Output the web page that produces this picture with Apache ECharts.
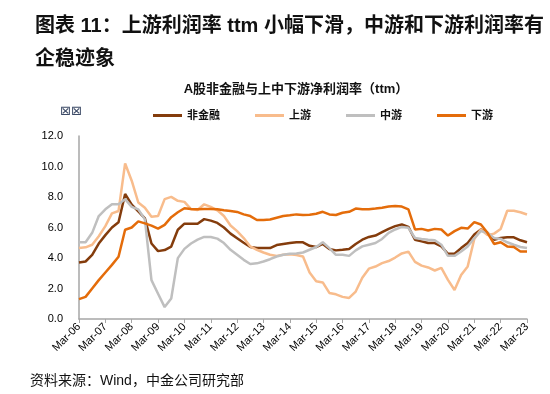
<!DOCTYPE html>
<html>
<head>
<meta charset="utf-8">
<script src="https://cdn.jsdelivr.net/npm/echarts@6/dist/echarts.min.js"></script>
<style>
html,body{margin:0;padding:0;background:#fff;}
#chart{width:550px;height:394px;}
</style>
</head>
<body>
<div id="chart"></div>
<script>
// ---- data ----
var years = ['06','07','08','09','10','11','12','13','14','15','16','17','18','19','20','21','22','23'];
var months = ['Mar','Jun','Sep','Dec'];
var seriesNames = ['非金融','上游','中游','下游'];

var nonFinancial = [3.7,3.77,4.2,4.95,5.5,6.0,6.35,8.2,7.5,7.05,
  6.6,4.95,4.45,4.52,4.75,5.85,6.25,6.25,6.25,6.55,
  6.45,6.3,6.0,5.6,5.3,5.0,4.72,4.65,4.65,4.65,
  4.85,4.92,4.98,5.03,5.03,4.8,4.72,4.92,4.59,4.5,
  4.54,4.59,4.92,5.2,5.38,5.47,5.69,5.91,6.09,6.2,
  6.04,5.2,5.09,4.98,4.98,4.76,4.28,4.28,4.65,4.98,
  5.54,5.87,5.65,5.2,5.31,5.36,5.36,5.16,5.03];
var upstream = [4.65,4.7,4.87,5.43,6.09,6.93,7.08,10.2,9.07,7.64,
  7.3,6.71,6.75,7.86,8.01,7.75,7.68,7.2,7.15,7.52,
  7.35,7.13,6.75,6.13,5.76,5.31,4.76,4.54,4.36,4.21,
  4.14,4.21,4.25,4.2,4.1,3.05,2.48,2.4,1.71,1.62,
  1.45,1.38,1.8,2.7,3.3,3.44,3.66,3.8,4.03,4.3,
  4.42,3.75,3.5,3.38,3.18,3.35,2.57,1.9,2.88,3.45,
  5.25,5.87,5.5,5.6,5.9,7.1,7.1,7.0,6.85];
var midstream = [5.03,5.03,5.65,6.75,7.19,7.52,7.52,7.86,7.35,7.19,
  6.53,2.55,1.66,0.78,1.34,3.99,4.6,4.95,5.2,5.38,
  5.38,5.27,4.98,4.54,4.21,3.88,3.61,3.65,3.77,3.92,
  4.1,4.21,4.28,4.3,4.36,4.54,4.72,5.03,4.65,4.21,
  4.21,4.14,4.5,4.76,4.87,4.98,5.25,5.65,5.87,6.04,
  5.98,5.31,5.25,5.2,5.16,4.87,4.14,4.14,4.43,4.76,
  5.31,5.76,5.65,5.31,5.25,5.03,4.87,4.72,4.65];
var downstream = [1.3,1.45,2.0,2.55,3.05,3.55,4.08,5.85,6.0,6.4,
  6.27,6.12,5.93,6.17,6.68,7.0,7.26,7.22,7.2,7.22,
  7.22,7.19,7.13,7.08,7.02,6.86,6.75,6.49,6.49,6.53,
  6.64,6.75,6.8,6.86,6.82,6.84,6.9,7.03,6.86,6.82,
  6.97,7.03,7.24,7.19,7.19,7.24,7.3,7.37,7.41,7.37,
  7.19,5.87,5.91,5.8,5.91,5.87,5.47,5.76,5.98,5.93,
  6.35,6.2,5.65,4.92,5.03,4.76,4.72,4.43,4.43];

// quarterly categories Mar-06 .. Mar-23
var categories = [];
years.forEach(function(y, i){
  months.forEach(function(m){
    if (i === years.length - 1 && m !== 'Mar') return;
    categories.push(m + '-' + y);
  });
});

var colors = ['#843C0C','#F8BC8C','#BFBFBF','#E46C0A'];
var cjk = '"Liberation Sans", "Noto Sans CJK SC", sans-serif';

var chart = echarts.init(document.getElementById('chart'), null, {renderer:'canvas'});
var dataSets = [nonFinancial, upstream, midstream, downstream];

chart.setOption({
  animation: false,
  backgroundColor: '#fff',
  title: [{
    text: '图表 11：上游利润率 ttm 小幅下滑，中游和下游利润率有\n企稳迹象',
    left: 30, top: 5,
    textStyle: {fontFamily: cjk, fontSize: 20, fontWeight: 'bold', color: '#111', lineHeight: 33}
  }],
  graphic: [
    {type:'text', x: 296, y: 89, style: {text: 'A股非金融与上中下游净利润率（ttm）', fontFamily: cjk, fontSize: 13, fontWeight: 'bold', fill: '#111', align: 'center', verticalAlign: 'middle'}},
    {type:'text', x: 71, y: 112, style: {text: '⊠⊠', fontFamily: '"DejaVu Sans"', fontSize: 13, fill: '#3c4a66', align: 'center', verticalAlign: 'middle'}},
    {type:'text', x: 30, y: 381, style: {text: '资料来源：Wind，中金公司研究部', fontFamily: cjk, fontSize: 14, fill: '#111', verticalAlign: 'middle'}}
  ],
  legend: {
    left: 148, top: 105,
    itemWidth: 29, itemHeight: 3, itemGap: 35,
    icon: 'rect',
    data: seriesNames,
    textStyle: {fontFamily: cjk, fontSize: 11, fontWeight: 'bold', color: '#111'}
  },
  grid: {left: 79, right: 23, top: 136, bottom: 75, containLabel: false},
  xAxis: {
    type: 'category',
    data: categories,
    boundaryGap: false,
    axisLine: {lineStyle: {color: '#A6A6A6', width: 1.5}},
    axisTick: {show: true, interval: 3, length: 4, lineStyle: {color: '#A6A6A6'}},
    axisLabel: {interval: 3, rotate: 45, fontFamily: '"Liberation Sans", sans-serif', fontSize: 11, color: '#000', margin: 6},
    splitLine: {show: false}
  },
  yAxis: {
    type: 'value',
    min: 0, max: 12, interval: 2,
    axisLine: {show: true, lineStyle: {color: '#A6A6A6', width: 1.5}},
    axisTick: {show: false},
    axisLabel: {formatter: function(v){ return v.toFixed(1); }, fontFamily: '"Liberation Sans", sans-serif', fontSize: 11, color: '#000', margin: 16},
    splitLine: {show: false}
  },
  series: seriesNames.map(function(n, i){
    return {
      name: n, type: 'line', data: dataSets[i],
      symbol: 'none', smooth: false,
      lineStyle: {color: colors[i], width: 2.5},
      itemStyle: {color: colors[i]}
    };
  })
});
</script>
</body>
</html>
